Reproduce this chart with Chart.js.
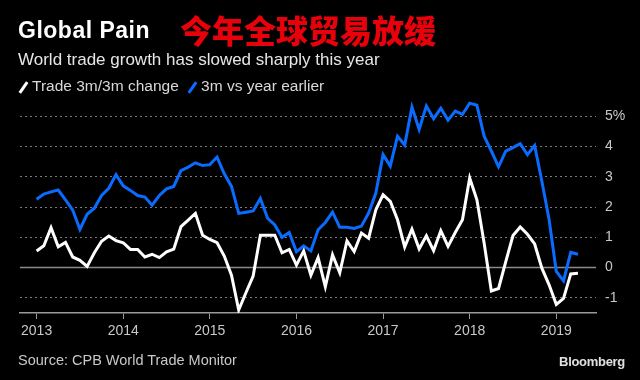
<!DOCTYPE html>
<html>
<head>
<meta charset="utf-8">
<script src="https://cdn.jsdelivr.net/npm/chart.js@4.4.0/dist/chart.umd.min.js"></script>
<style>
    html, body {
        margin: 0;
        padding: 0;
        background: #000;
        width: 640px;
        height: 380px;
        overflow: hidden;
        font-family: "Liberation Sans", Arial, sans-serif;
    }
    #wrap { position: relative; width: 640px; height: 380px; }
    #chart { position: absolute; left: 0; top: 0; }
    .txt { position: absolute; white-space: nowrap; line-height: 1; }
    #title { left: 18px; top: 19px; font-size: 23px; font-weight: bold; color: #fff; letter-spacing: 0.5px; }
    #titleCn { left: 180px; top: 13px; font-size: 32px; font-weight: 900; color: #e8000b; font-family: "Noto Sans CJK SC", sans-serif; }
    #subtitle { left: 18px; top: 51px; font-size: 17px; color: #e6e6e6; }
    #legend { left: 18px; top: 78px; font-size: 15.5px; color: #d8d8d8; }
    .key { display: inline-block; width: 3px; height: 13px; transform: rotate(35deg); margin: 0 7px -1px 4px; vertical-align: middle; }
    #source { left: 18px; top: 353px; font-size: 14.5px; color: #c8c8c8; }
    #brand { right: 15px; top: 355px; font-size: 13px; font-weight: bold; color: #e0e0e0; letter-spacing: -0.3px; }
</style>
</head>
<body>
<div id="wrap">
    <canvas id="chart" width="640" height="380"></canvas>
    <div class="txt" id="title">Global Pain</div>
    <div class="txt" id="titleCn">今年全球贸易放缓</div>
    <div class="txt" id="subtitle">World trade growth has slowed sharply this year</div>
    <div class="txt" id="legend"><span class="key" style="background:#fff"></span>Trade 3m/3m change <span class="key" style="background:#0a6cff;margin-left:8px"></span>3m vs year earlier</div>
    <div class="txt" id="source">Source: CPB World Trade Monitor</div>
    <div class="txt" id="brand">Bloomberg</div>
</div>
<script>
// monthly, Jan 2013 .. Apr 2019 (index 0 = Jan 2013)
const tradeMoM = [
    0.55, 0.72, 1.32, 0.69, 0.83, 0.35, 0.24, 0.04, 0.49, 0.87, 1.04, 0.89,
    0.82, 0.60, 0.60, 0.35, 0.44, 0.33, 0.52, 0.61, 1.35, 1.57, 1.79, 1.07,
    0.93, 0.82, 0.38, -0.25, -1.40, -0.83, -0.28, 1.07, 1.07, 1.07, 0.49, 0.60,
    0.08, 0.55, -0.25, 0.33, -0.63, 0.42, -0.17, 0.88, 0.53, 1.14, 0.97, 1.91,
    2.41, 2.19, 1.58, 0.68, 1.27, 0.62, 1.05, 0.56, 1.22, 0.70, 1.16, 1.58,
    2.96, 2.24, 0.81, -0.77, -0.69, 0.20, 1.06, 1.34, 1.10, 0.78, -0.02, -0.57,
    -1.22, -1.02, -0.21, -0.19
];
const tradeYoY = [
    2.26, 2.43, 2.50, 2.56, 2.24, 1.90, 1.26, 1.76, 1.96, 2.38, 2.62, 3.07,
    2.70, 2.55, 2.38, 2.33, 2.06, 2.38, 2.60, 2.68, 3.20, 3.32, 3.46, 3.37,
    3.40, 3.65, 3.10, 2.68, 1.79, 1.83, 1.87, 2.28, 1.63, 1.41, 1.00, 1.16,
    0.52, 0.72, 0.55, 1.25, 1.49, 1.83, 1.33, 1.33, 1.29, 1.37, 1.80, 2.46,
    3.73, 3.35, 4.34, 4.05, 5.30, 4.56, 5.34, 4.92, 5.26, 4.87, 5.17, 5.06,
    5.43, 5.36, 4.34, 3.85, 3.33, 3.85, 3.96, 4.09, 3.73, 4.03, 2.85, 1.59,
    -0.13, -0.44, 0.50, 0.44
];
const yearTicks = [0, 12, 24, 36, 48, 60, 72];
const yearLabels = ['2013', '2014', '2015', '2016', '2017', '2018', '2019'];
const valueTicks = [-1, 0, 1, 2, 3, 4, 5];
const valueLabels = ['-1', '0', '1', '2', '3', '4', '5%'];

const toPoints = arr => arr.map((v, i) => ({ x: i, y: v }));

// solid zero line under the series
const zeroLine = {
    id: 'zeroLine',
    beforeDatasetsDraw(chart) {
        const { ctx, chartArea, scales } = chart;
        const y = scales.y.getPixelForValue(0);
        ctx.save();
        ctx.strokeStyle = '#8a8a8a';
        ctx.lineWidth = 1.5;
        ctx.beginPath();
        ctx.moveTo(chartArea.left, y);
        ctx.lineTo(chartArea.right, y);
        ctx.stroke();
        ctx.restore();
    }
};

new Chart(document.getElementById('chart'), {
    type: 'line',
    data: {
        datasets: [
            {
                label: 'Trade 3m/3m change',
                data: toPoints(tradeMoM),
                borderColor: '#ffffff',
                borderWidth: 3,
                pointRadius: 0,
                tension: 0
            },
            {
                label: '3m vs year earlier',
                data: toPoints(tradeYoY),
                borderColor: '#0a6cff',
                borderWidth: 3,
                pointRadius: 0,
                tension: 0
            }
        ]
    },
    options: {
        responsive: false,
        animation: false,
        layout: { padding: { top: 95, left: 20, right: 0, bottom: 0 } },
        plugins: { legend: { display: false }, tooltip: { enabled: false } },
        scales: {
            x: {
                type: 'linear',
                min: -2.3,
                max: 77.5,
                afterBuildTicks: s => { s.ticks = yearTicks.map(v => ({ value: v })); },
                afterFit: s => { s.height = 67; },
                ticks: {
                    autoSkip: false,
                    maxRotation: 0,
                    color: '#c8c8c8',
                    font: { size: 14, family: 'Liberation Sans' },
                    padding: 4,
                    callback: v => yearLabels[yearTicks.indexOf(v)]
                },
                grid: { drawOnChartArea: false, drawTicks: true, tickLength: 6, color: '#9a9a9a', lineWidth: 1 },
                border: { display: true, color: '#9a9a9a', width: 1.5 }
            },
            y: {
                position: 'right',
                min: -1.5,
                max: 5.7,
                afterBuildTicks: s => { s.ticks = valueTicks.map(v => ({ value: v })); },
                afterFit: s => { s.width = 44; },
                ticks: {
                    color: '#c8c8c8',
                    font: { size: 14, family: 'Liberation Sans' },
                    padding: 9,
                    callback: v => valueLabels[valueTicks.indexOf(v)]
                },
                grid: { drawTicks: false, color: '#7a7a7a', lineWidth: 1 },
                border: { display: false, dash: [2, 3] }
            }
        }
    },
    plugins: [zeroLine]
});
</script>
</body>
</html>
